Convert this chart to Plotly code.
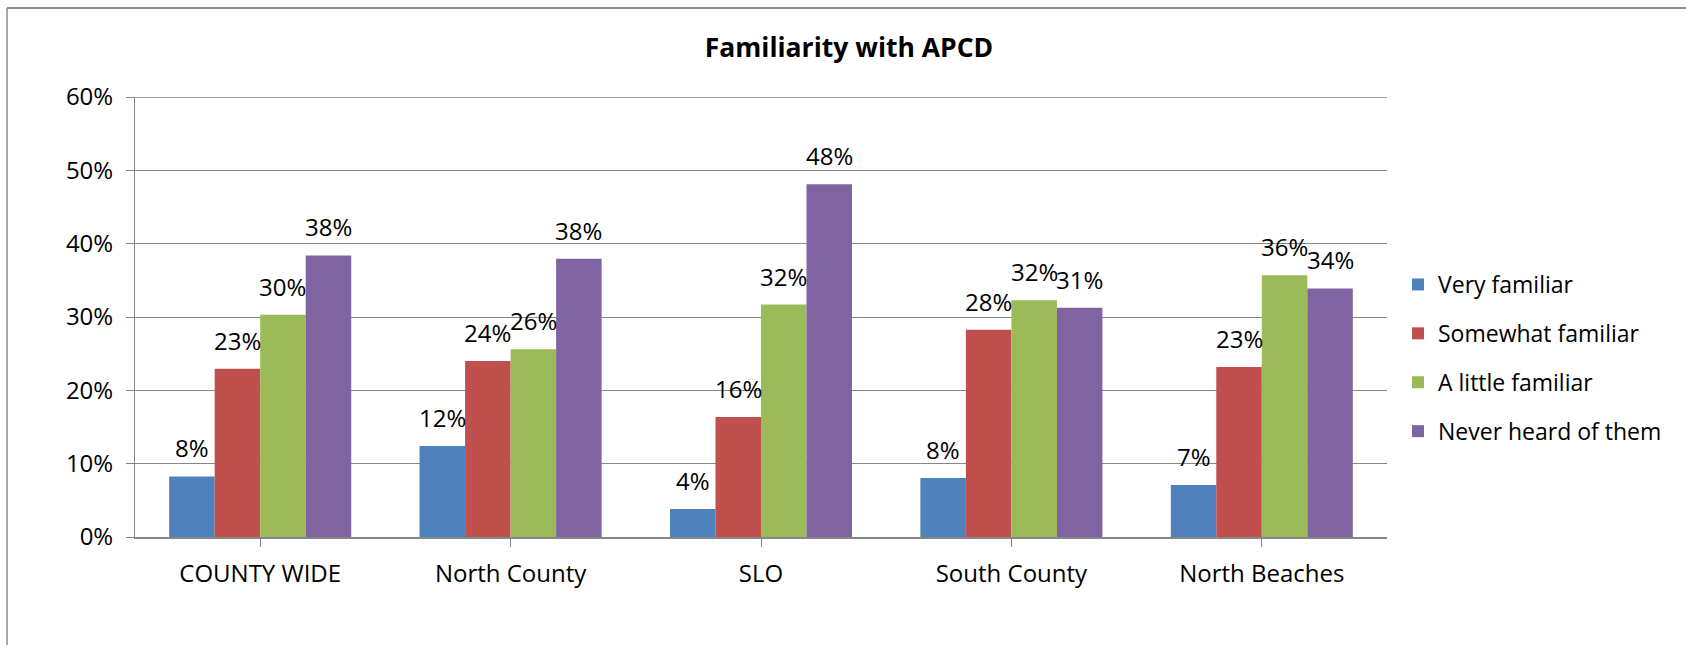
import plotly.graph_objects as go

categories = ["COUNTY WIDE", "North County", "SLO", "South County", "North Beaches"]
series_names = ["Very familiar", "Somewhat familiar", "A little familiar", "Never heard of them"]
very_familiar = [0.0826, 0.124, 0.0382, 0.0805, 0.0709]
somewhat_familiar = [0.2295, 0.240, 0.1636, 0.2827, 0.2318]
little_familiar = [0.303, 0.256, 0.317, 0.3227, 0.3568]
never_heard = [0.384, 0.3795, 0.481, 0.3127, 0.339]
colors = ["#4F81BD", "#C0504D", "#9BBB59", "#8064A2"]
y_ticks = [0, 0.1, 0.2, 0.3, 0.4, 0.5, 0.6]

series_values = [very_familiar, somewhat_familiar, little_familiar, never_heard]

W, H = 1686, 645
L, R, T, B = 135, 299, 97, 108
BARGAP = 0.273
FONT = "Open Sans"
FS = 24

fig = go.Figure()
for name, vals, col in zip(series_names, series_values, colors):
    fig.add_trace(go.Bar(
        x=list(range(len(categories))), y=vals, name=name,
        marker=dict(color=col, line=dict(width=0)),
        legendgroup=name,
    ))

# data labels above bars
n = len(series_values)
bw = (1 - BARGAP) / n
for i, vals in enumerate(series_values):
    for j, v in enumerate(vals):
        fig.add_annotation(
            x=j + (i - (n - 1) / 2) * bw, y=v, xref="x", yref="y",
            text=f"{round(v * 100):.0f}%", showarrow=False,
            yanchor="bottom", yshift=10,
            font=dict(family=FONT, size=FS, color="#000000"),
        )

# top gridline (at the range edge plotly omits it)
fig.add_shape(type="line", xref="paper", yref="y", x0=0, x1=1,
              y0=y_ticks[-1], y1=y_ticks[-1], line=dict(color="#868686", width=1.5),
              layer="below")

# chart border (left and top lines)
pw = W - L - R
ph = H - T - B
def px_x(p):
    return (p - L) / pw
def px_y(p):
    return 1 - (p - T) / ph
fig.add_shape(type="line", xref="paper", yref="paper",
              x0=px_x(7), x1=px_x(7), y0=px_y(8), y1=px_y(H + 5),
              line=dict(color="#8C8C8C", width=1.5))
fig.add_shape(type="line", xref="paper", yref="paper",
              x0=px_x(7), x1=px_x(W + 5), y0=px_y(8), y1=px_y(8),
              line=dict(color="#8C8C8C", width=2))

fig.update_layout(
    width=W, height=H,
    margin=dict(l=L, r=R, t=T, b=B, autoexpand=False),
    paper_bgcolor="white", plot_bgcolor="white",
    barmode="group", bargap=BARGAP, bargroupgap=0,
    font=dict(family=FONT, size=FS, color="#000000"),
    title=dict(text="<b>Familiarity with APCD</b>", xref="container", yref="container",
               x=849 / W, y=1 - 48 / H, xanchor="center", yanchor="middle",
               font=dict(family=FONT, size=26.5, color="#000000")),
    showlegend=True,
    legend=dict(x=px_x(1398), y=px_y(263), xanchor="left", yanchor="top",
                traceorder="grouped", tracegroupgap=16,
                font=dict(family=FONT, size=23, color="#000000"),
                bgcolor="rgba(0,0,0,0)"),
    xaxis=dict(
        tickmode="array", tickvals=list(range(len(categories))), ticktext=categories,
        range=[-0.5, len(categories) - 0.5],
        tickson="boundaries", ticks="outside", ticklen=8, tickcolor="#868686", tickwidth=1,
        showline=True, linecolor="#868686", linewidth=2,
        showgrid=False, zeroline=False, ticklabelstandoff=6,
        tickfont=dict(family=FONT, size=FS, color="#000000"),
    ),
    yaxis=dict(
        range=[0, 0.6], tickvals=y_ticks, tickformat=".0%",
        ticks="outside", ticklen=8, tickcolor="#868686", tickwidth=1,
        showline=True, linecolor="#868686", linewidth=1,
        showgrid=True, gridcolor="#868686", gridwidth=1.3,
        zeroline=False, ticklabelstandoff=8,
        tickfont=dict(family=FONT, size=FS, color="#000000"),
    ),
)

fig.write_html("out.html", config={"displayModeBar": False},
               post_script="document.body.style.margin='0';")
